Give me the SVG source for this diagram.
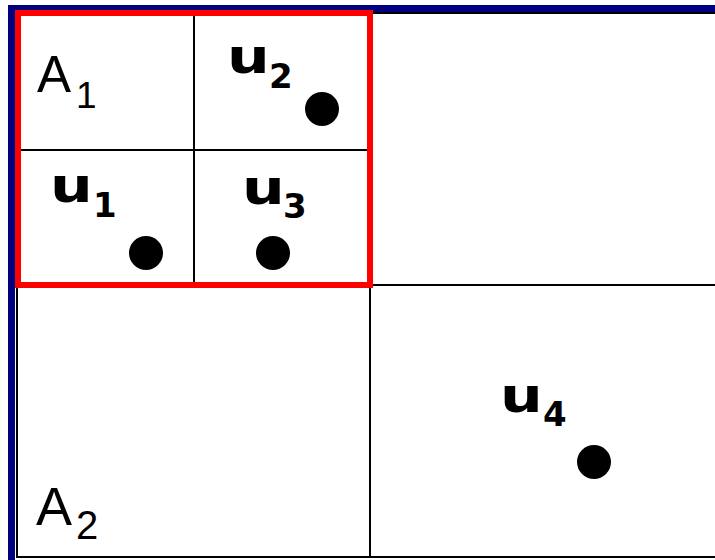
<svg xmlns="http://www.w3.org/2000/svg" width="715" height="560" viewBox="0 0 715 560">
<style>
.grid{fill:none;stroke:#000;stroke-width:2}
.lbl{font-family:"Liberation Sans",Arial,sans-serif;fill:#000}
.u{font-family:"DejaVu Sans",Verdana,sans-serif;font-size:48px;font-weight:bold;fill:#000}
.usub{font-family:"DejaVu Sans",Verdana,sans-serif;font-size:34px;font-weight:600;fill:#000}
.pt{fill:#000}
</style>
<rect width="715" height="560" fill="#fff"/>
<g id="frame">
<rect x="11.5" y="8.5" width="720" height="560" fill="none" stroke="#000080" stroke-width="7"/>
<rect x="17" y="13" width="720" height="544" class="grid"/>
<line x1="370" y1="285" x2="370" y2="557" class="grid"/>
<line x1="370" y1="285" x2="715" y2="285" class="grid"/>
<line x1="194" y1="13" x2="194" y2="285" class="grid"/>
<line x1="18" y1="150" x2="370" y2="150" class="grid"/>
</g>
<g id="A1"><text x="37" y="92" class="lbl" font-size="51">A</text><text x="76" y="108" class="lbl" font-size="37">1</text></g>
<g id="A2"><text x="36" y="525" class="lbl" font-size="54">A</text><text x="76" y="539" class="lbl" font-size="40">2</text></g>
<g id="u1"><text class="u" transform="translate(50,202) scale(1.25,1)">u</text><text class="usub" x="93" y="217">1</text><circle cx="146" cy="253" r="17" class="pt"/></g>
<g id="u2"><text class="u" transform="translate(227,73) scale(1.25,1)">u</text><text class="usub" x="269" y="88">2</text><circle cx="322" cy="109" r="17" class="pt"/></g>
<g id="u3"><text class="u" transform="translate(242,204) scale(1.25,1)">u</text><text class="usub" x="283" y="218">3</text><circle cx="273" cy="253" r="17" class="pt"/></g>
<g id="u4"><text class="u" transform="translate(500,412) scale(1.25,1)">u</text><text class="usub" x="543" y="426">4</text><circle cx="594" cy="462" r="17" class="pt"/></g>
<g id="connectors"></g>
<rect id="A1box" x="18" y="13" width="352" height="272" fill="none" stroke="#ff0000" stroke-width="6"/>
</svg>
